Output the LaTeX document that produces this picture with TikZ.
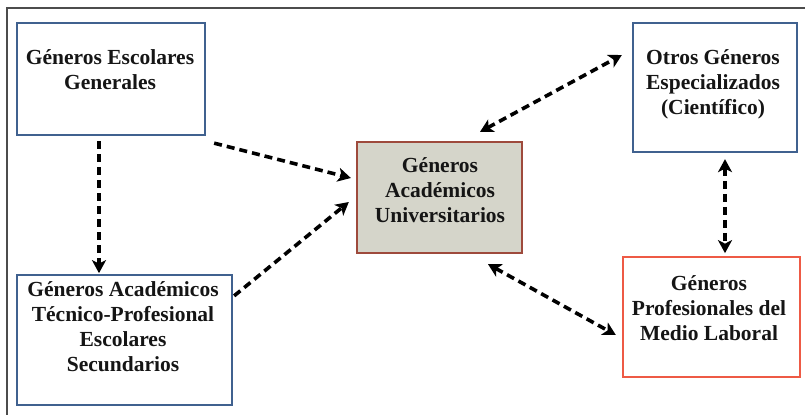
\documentclass[tikz,border=0pt]{standalone}
\usepackage{fontspec}
\setmainfont{Liberation Serif}
\usetikzlibrary{arrows.meta,calc}
\definecolor{boxblue}{HTML}{40618F}
\definecolor{boxbrown}{HTML}{9E4A3C}
\definecolor{boxfill}{HTML}{D5D5CA}
\definecolor{boxred}{HTML}{EE5A45}
\definecolor{txt}{HTML}{151515}
\begin{document}
\begin{tikzpicture}[x=1pt,y=-1pt,
  box/.style={draw=boxblue,line width=2.3pt,rectangle,inner sep=0pt},
  lbl/.style={align=center,inner sep=0pt,text=txt,font=\fontsize{21.5}{25}\selectfont\bfseries},
  conn/.style={line width=3.6pt,dash pattern=on 8pt off 5pt,black},
  tip/.style={-{Stealth[length=13pt,width=14pt,inset=3.5pt]}},
  tips/.style={{Stealth[length=13pt,width=14pt,inset=3.5pt]}-{Stealth[length=13pt,width=14pt,inset=3.5pt]}}]
\useasboundingbox (0,0) rectangle (805,415);
% outer frame
\coordinate (fTL) at (7,8);
\coordinate (fTR) at (805,8);
\coordinate (fBL) at (7,415);
\draw[line width=1.5pt,black!70] (fTR) -- (fTL) -- (fBL);
% boxes
\node[box,minimum width=188pt,minimum height=112pt] (A) at (111,79) {};
\node[box,minimum width=215pt,minimum height=130pt] (B) at (124.5,340) {};
\node[box,draw=boxbrown,fill=boxfill,minimum width=165pt,minimum height=111pt] (C) at (439.5,197.5) {};
\node[box,minimum width=164pt,minimum height=129pt] (O) at (715,87.5) {};
\node[box,draw=boxred,minimum width=177pt,minimum height=120pt] (P) at (711.5,317) {};
% texts
\node[lbl] (tA) at (110,70) {Géneros Escolares\\Generales};
\node[lbl] (tB) at (123,327) {Géneros Académicos\\Técnico-Profesional\\Escolares\\Secundarios};
\node[lbl] (tC) at (440,190) {Géneros\\Académicos\\Universitarios};
\node[lbl] (tO) at (713,84) {Otros Géneros\\Especializados\\(Científico)};
\node[lbl] (tP) at (709,308) {Géneros\\Profesionales del\\Medio Laboral};
% connectors
\draw[conn,tip] ($(A.south)+(-12,5)$) -- ($(A.south)+(-12,137)$);
\draw[conn,tip] ($(A.south east)+(8,7)$) -- ($(C.west)+(-5,-19.5)$);
\draw[conn,tip] ($(B.north east)+(1,22)$) -- ($(C.west)+(-7,4.5)$);
\draw[conn,tips] ($(C.north)+(40.5,-9)$) -- ($(O.west)+(-10,-32.5)$);
\draw[conn,tips] ($(O.south)+(10,6)$) -- ($(O.south)+(10,100)$);
\draw[conn,tips] ($(C.south)+(48.5,10)$) -- ($(P.west)+(-6,18)$);
\end{tikzpicture}
\end{document}
